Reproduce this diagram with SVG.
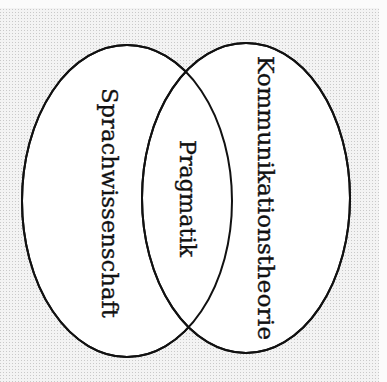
<svg xmlns="http://www.w3.org/2000/svg" width="387" height="382" viewBox="0 0 387 382">
<defs>
<pattern id="dots" width="3" height="3" patternUnits="userSpaceOnUse">
<rect width="3" height="3" fill="#f3f3f3"/>
<rect width="1" height="1" fill="#c9c9c9"/>
</pattern>
<style>
.ell{fill:#ffffff;stroke:#111;stroke-width:2}
.ol{fill:none;stroke:#111;stroke-width:2}
.lbl{font-family:"DejaVu Serif","Liberation Serif",serif;font-size:23px;fill:#111;stroke:#111;stroke-width:0.35}
</style>
</defs>
<rect width="387" height="382" fill="url(#dots)"/>
<rect x="0" y="0" width="387" height="8" fill="#fbfbfb"/>
<rect x="379" y="0" width="8" height="382" fill="#fbfbfb"/>
<g id="fills">
<ellipse class="ell" cx="127" cy="201" rx="105" ry="156"/>
<ellipse class="ell" cx="246" cy="198" rx="104" ry="155"/>
</g>
<g id="sprachwissenschaft">
<ellipse class="ol" cx="127" cy="201" rx="105" ry="156"/>
<text class="lbl" transform="translate(102,88) rotate(90)" textLength="230" lengthAdjust="spacingAndGlyphs">Sprachwissenschaft</text>
</g>
<g id="kommunikationstheorie">
<ellipse class="ol" cx="246" cy="198" rx="104" ry="155"/>
<text class="lbl" transform="translate(258,56) rotate(90)" textLength="284" lengthAdjust="spacingAndGlyphs">Kommunikationstheorie</text>
</g>
<g id="pragmatik">
<text class="lbl" transform="translate(180,140) rotate(90)" textLength="117" lengthAdjust="spacingAndGlyphs">Pragmatik</text>
</g>
<g id="connectors"></g>
</svg>
